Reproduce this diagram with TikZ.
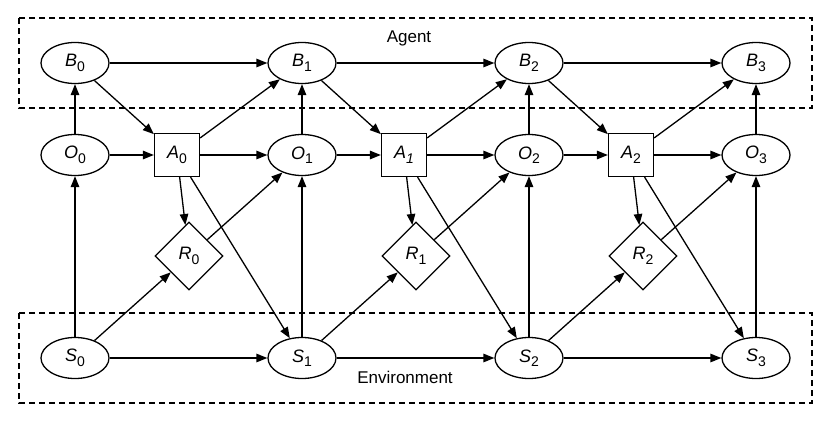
\documentclass[tikz,border=0pt]{standalone}
\usepackage{fontspec}
\setmainfont{Liberation Sans}
\usetikzlibrary{shapes.geometric,arrows.meta}
\newcommand\vlab[2]{{\fontsize{18}{18}\selectfont\textit{#1}\raisebox{-4.5pt}{\fontsize{14}{14}\selectfont #2}}}
\begin{document}
\begin{tikzpicture}[x=1pt,y=-1pt,line width=1.3pt,
  >={Triangle[length=11pt,width=8.5pt]},
  ell/.style={ellipse,draw,minimum width=68pt,minimum height=41pt,inner sep=0pt},
  sq/.style={rectangle,draw,minimum width=45pt,minimum height=43pt,inner sep=0pt},
  dia/.style={diamond,draw,minimum width=68pt,minimum height=68pt,inner sep=0pt},
  region/.style={draw,dash pattern=on 6pt off 4pt},
  conn/.style={->},
  lbl/.style={font=\fontsize{17}{17}\selectfont}]
\useasboundingbox (0,0) rectangle (830,423);
\draw[region] (19,18) rectangle (812,108);
\draw[region] (19,313) rectangle (812,403);
\node[lbl] (agent) at (409,38) {Agent};
\node[lbl] (env) at (405,377) {Environment};
\foreach \i in {0,1,2,3}{
  \pgfmathsetmacro\xx{75+227*\i}
  \node[ell] (B\i) at (\xx,63) {\vlab{B}{\i}};
  \node[ell] (O\i) at (\xx,155) {\vlab{O}{\i}};
  \node[ell] (S\i) at (\xx,358) {\vlab{S}{\i}};
}
\node[sq] (A0) at (177,155) {\vlab{A}{0}};
\node[sq] (A1) at (404,155) {\vlab{A}{\textit{1}}};
\node[sq] (A2) at (631,155) {\vlab{A}{2}};
\foreach \i in {0,1,2}{
  \pgfmathsetmacro\xx{189+227*\i}
  \node[dia] (R\i) at (\xx,256) {\vlab{R}{\i}};
}
\foreach \i/\j in {0/1,1/2,2/3}{
  \draw[conn] (B\i) -- (B\j);
  \draw[conn] (S\i) -- (S\j);
  \draw[conn] (B\i) -- (A\i);
  \draw[conn] (O\i) -- (A\i);
  \draw[conn] (A\i) -- (B\j);
  \draw[conn] (A\i) -- (O\j);
  \draw[conn] (A\i) -- (R\i);
  \draw[conn] (A\i) -- (S\j);
  \draw[conn] (R\i) -- (O\j);
  \draw[conn] (S\i) -- (R\i);
}
\foreach \i in {0,1,2,3}{
  \draw[conn] (O\i) -- (B\i);
  \draw[conn] (S\i) -- (O\i);
}
\end{tikzpicture}
\end{document}
